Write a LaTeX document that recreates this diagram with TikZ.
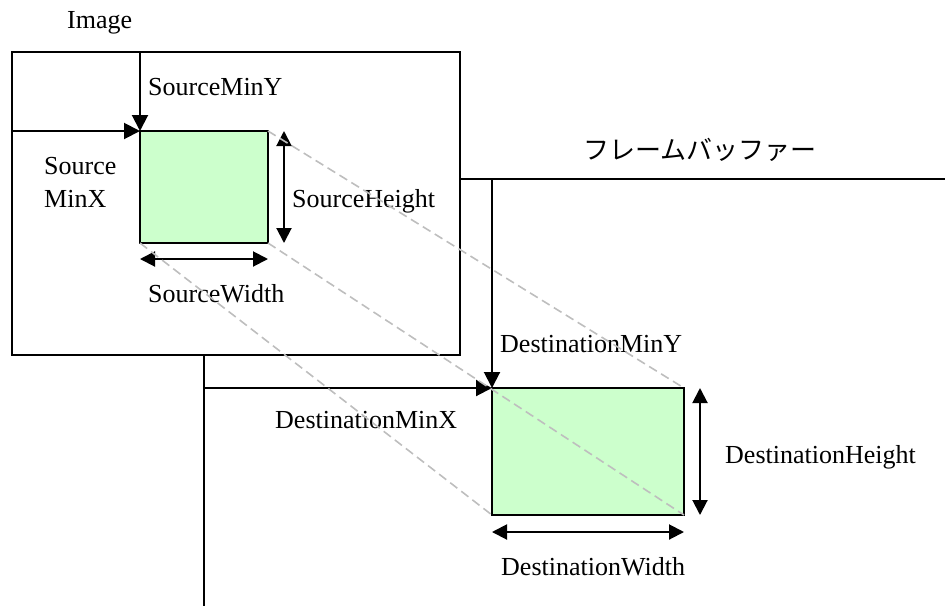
\documentclass[tikz,border=0pt]{standalone}
\usepackage{fontspec}
\setmainfont{Liberation Serif}
\newfontfamily\jpfont{Noto Sans CJK JP}
\usetikzlibrary{arrows.meta}

\definecolor{regiongreen}{RGB}{204,255,204}
\definecolor{guidegray}{RGB}{190,190,190}

\begin{document}
\begin{tikzpicture}[x=1pt,y=-1pt,
  edge/.style={line width=2pt},
  offarrow/.style={line width=2pt,-{Triangle[length=16pt,width=16pt]}},
  dimarrow/.style={line width=2pt,{Triangle[length=15pt,width=15pt]}-{Triangle[length=15pt,width=15pt]}},
  frame/.style={draw,line width=2pt,inner sep=0pt,outer sep=0pt,anchor=north west},
  region/.style={frame,fill=regiongreen},
  guide/.style={draw=guidegray,line width=1.6pt,dash pattern=on 9pt off 5pt},
  lbl/.style={font=\fontsize{26}{30}\selectfont,inner sep=0pt,anchor=base west}]

  \useasboundingbox (0,0) rectangle (945,606);

  % source image and its sub-region
  \node[frame,minimum width=448pt,minimum height=303pt] (img) at (12,52) {};
  \node[region,minimum width=128pt,minimum height=112pt] (src) at (140,131) {};

  % frame buffer edges
  \coordinate (fbT0) at (460,179);
  \coordinate (fbT1) at (945,179);
  \coordinate (fbL0) at (204,355);
  \coordinate (fbL1) at (204,606);
  \draw[edge] (fbT0) -- (fbT1);
  \draw[edge] (fbL0) -- (fbL1);

  % destination region
  \node[region,minimum width=192pt,minimum height=127pt] (dst) at (492,388) {};

  % offsets
  \draw[offarrow] (img.north -| src.north west) -- (src.north west);
  \draw[offarrow] (img.west |- src.north west) -- (src.north west);
  \draw[offarrow] (dst.north west |- fbT0) -- (dst.north west);
  \draw[offarrow] (fbL0 |- dst.north west) -- (dst.north west);

  % sizes
  \draw[dimarrow] ([xshift=16pt]src.north east) -- ([xshift=16pt]src.south east);
  \draw[dimarrow] ([yshift=-16pt]src.south west) -- ([yshift=-16pt]src.south east);
  \draw[dimarrow] ([xshift=16pt]dst.north east) -- ([xshift=16pt]dst.south east);
  \draw[dimarrow] ([yshift=-17pt]dst.south west) -- ([yshift=-17pt]dst.south east);

  % labels
  \node[lbl] (tImage) at (67,28) {Image};
  \node[lbl] (tSMinY) at (148,95) {SourceMinY};
  \node[lbl] (tSMinXa) at (44,174) {Source};
  \node[lbl] (tSMinXb) at (44,207) {MinX};
  \node[lbl] (tSH) at (292,207) {SourceHeight};
  \node[lbl] (tSW) at (148,302) {SourceWidth};
  \node[lbl,font=\jpfont\fontsize{26}{30}\selectfont] (tFB) at (583,159) {フレームバッファー};
  \node[lbl] (tDMinY) at (500,352) {DestinationMinY};
  \node[lbl] (tDMinX) at (275,428) {DestinationMinX};
  \node[lbl] (tDH) at (725,463) {DestinationHeight};
  \node[lbl] (tDW) at (501,575) {DestinationWidth};

  % projection guides
  \draw[guide] (src.north east) -- (dst.north east);
  \draw[guide] (src.south east) -- (dst.south east);
  \draw[guide] (src.south west) -- (dst.south west);
\end{tikzpicture}
\end{document}
